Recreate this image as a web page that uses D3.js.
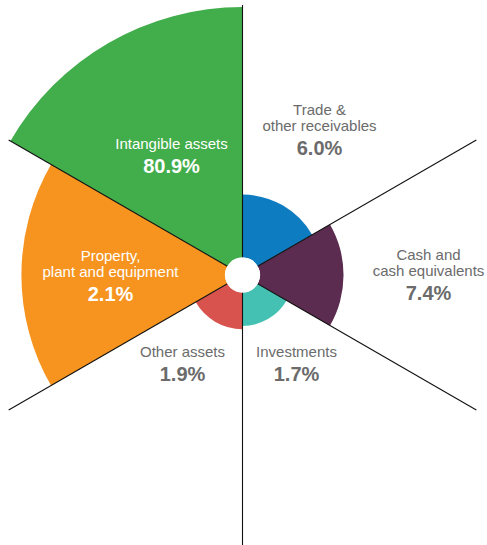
<!DOCTYPE html>
<html>
<head>
<meta charset="utf-8">
<script src="https://cdn.jsdelivr.net/npm/d3@7"></script>
<style>
  body { margin: 0; background: #fff; }
  svg text { font-family: "Liberation Sans", Arial, sans-serif; }
</style>
</head>
<body>
<script>
var w = 487;
var h = 545;
var center = {"x": 242.5, "y": 275};
var innerR = 17.5;
var lineLength = 270;

// clockwise from 12 o'clock
var categories = ["Trade &|other receivables", "Cash and|cash equivalents", "Investments",
                  "Other assets", "Property,|plant and equipment", "Intangible assets"];
var percents = [6.0, 7.4, 1.7, 1.9, 2.1, 80.9];
// sector length as drawn (0-100 of full radius)
var sectorSizes = [30, 37.7, 19, 20.2, 82.5, 100];
var colors = ["#0E7CC1", "#5B2C4F", "#45C1B4", "#D8534E", "#F6941F", "#42AD4B"];

// label anchor (percent baseline) relative to center, and whether it sits inside the slice
var labelLayout = [
  {"dx": 77, "dy": -120, "inside": false},
  {"dx": 186, "dy": 25, "inside": false},
  {"dx": 54, "dy": 106, "inside": false},
  {"dx": -60, "dy": 106, "inside": false},
  {"dx": -132, "dy": 26, "inside": true},
  {"dx": -71, "dy": -102, "inside": true}
];

var svg = d3.select("body")
            .append("svg")
            .attr("width", w)
            .attr("height", h);

var rScale = d3.scaleLinear()
               .domain([0, 100])
               .range([0, 268]);

var angleScale = d3.scaleBand()
                   .domain(categories)
                   .range([0, 2*Math.PI]);

var arc = d3.arc()
            .innerRadius(innerR)
            .outerRadius(function(d, i){ return rScale(sectorSizes[i]); })
            .startAngle(function(d){ return angleScale(d); })
            .endAngle(function(d){ return angleScale(d) + angleScale.bandwidth(); });

var g = svg.append("g")
           .attr("transform", "translate(" + center.x + "," + center.y + ")");

g.selectAll("path.slice")
 .data(categories)
 .enter()
 .append("path")
 .classed("slice", true)
 .attr("d", arc)
 .attr("fill", function(d, i){ return colors[i]; });

// divider lines
g.selectAll("line.divider")
 .data(categories)
 .enter()
 .append("line")
 .classed("divider", true)
 .attr("x1", function(d){ return d3.pointRadial(angleScale(d), innerR)[0]; })
 .attr("y1", function(d){ return d3.pointRadial(angleScale(d), innerR)[1]; })
 .attr("x2", function(d){ return d3.pointRadial(angleScale(d), lineLength)[0]; })
 .attr("y2", function(d){ return d3.pointRadial(angleScale(d), lineLength)[1]; })
 .attr("stroke", "#111")
 .attr("stroke-width", 1.1);

g.append("circle")
 .attr("r", innerR)
 .attr("fill", "#fff");

// labels
var labels = g.selectAll("g.label")
              .data(categories)
              .enter()
              .append("g")
              .classed("label", true)
              .attr("transform", function(d, i){
                  return "translate(" + labelLayout[i].dx + "," + labelLayout[i].dy + ")";
              });

labels.each(function(d, i){
    var lines = d.split("|");
    var col = labelLayout[i].inside ? "#fff" : "#6b6b6b";
    var sel = d3.select(this);
    lines.forEach(function(t, j){
        sel.append("text")
           .attr("x", 0)
           .attr("y", -24 - (lines.length - 1 - j)*16)
           .attr("text-anchor", "middle")
           .attr("font-size", 15)
           .attr("fill", col)
           .text(t);
    });
    sel.append("text")
       .attr("x", 0)
       .attr("y", 0)
       .attr("text-anchor", "middle")
       .attr("font-size", 20)
       .attr("font-weight", "bold")
       .attr("fill", col)
       .text(d3.format(".1f")(percents[i]) + "%");
});
</script>
</body>
</html>
